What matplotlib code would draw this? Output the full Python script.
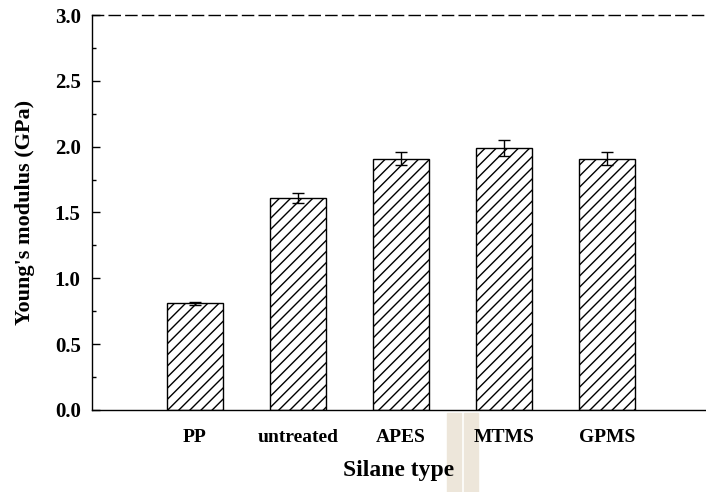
import matplotlib
matplotlib.use("Agg")
import matplotlib.pyplot as plt
from matplotlib.patches import Rectangle
from matplotlib.ticker import MultipleLocator

# values
silanes = ["PP", "untreated", "APES", "MTMS", "GPMS"]
modulus = [0.81, 1.61, 1.91, 1.99, 1.91]
modulus_err = [0.01, 0.04, 0.05, 0.06, 0.05]

plt.rcParams["font.family"] = ["Liberation Serif", "DejaVu Serif"]
plt.rcParams["hatch.linewidth"] = 1.0

fig = plt.figure(figsize=(7.06, 4.92), dpi=100)
ax = fig.add_axes([0.130, 0.1667, 0.870, 0.8028])

xs = list(range(1, len(silanes) + 1))
ax.bar(xs, modulus, width=0.54, color="white", edgecolor="black",
       hatch="///", linewidth=1.0, zorder=2)
ax.errorbar(xs, modulus, yerr=modulus_err, fmt="none", ecolor="black",
            elinewidth=1.0, capsize=4, capthick=1.0, zorder=3)

ax.set_xlim(0, 5.96)
ax.set_ylim(0, 3.0)
ax.set_xticks(xs)
ax.set_xticklabels(silanes, fontsize=14, fontweight="semibold")
ax.tick_params(axis="x", length=0, pad=14)
ax.yaxis.set_major_locator(MultipleLocator(0.5))
ax.yaxis.set_minor_locator(MultipleLocator(0.25))
ax.tick_params(axis="y", which="major", direction="in", length=6, width=1,
               labelsize=15, pad=8)
ax.tick_params(axis="y", which="minor", direction="in", length=3, width=1)
for lab in ax.get_yticklabels():
    lab.set_fontweight("bold")

ax.spines["right"].set_visible(False)
ax.spines["top"].set_linestyle((0, (8, 4)))
for s in ("left", "top", "bottom"):
    ax.spines[s].set_linewidth(1.0)

ax.set_ylabel("Young's modulus (GPa)", fontsize=16, fontweight="bold", labelpad=14)
ax.set_xlabel("Silane type", fontsize=17, fontweight="bold", labelpad=10)

# beige paper strips from the scan
for x0, w in [(447, 14), (464, 14)]:
    fig.patches.append(Rectangle((x0 / 706, 0), w / 706, 79 / 492,
                                 transform=fig.transFigure, color="#ede6da",
                                 zorder=-1))

fig.savefig("out.png", dpi=100)
